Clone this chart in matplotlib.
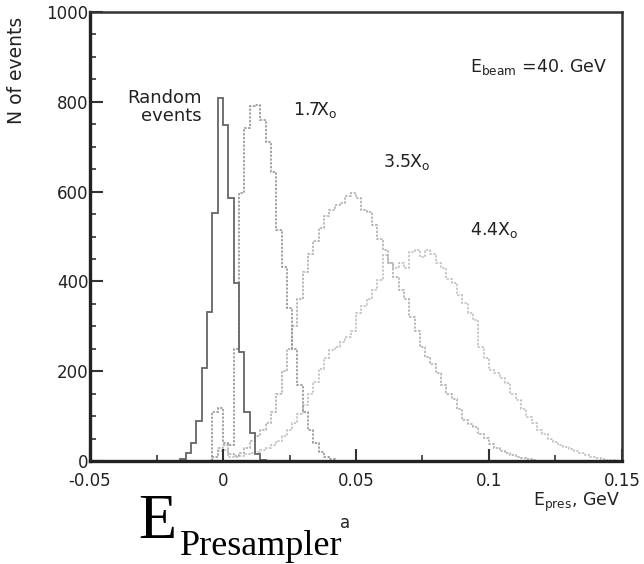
import numpy as np
import matplotlib.pyplot as plt
from matplotlib.ticker import MultipleLocator

# bin width of all histograms (GeV)
bin_w = 0.002

# ---- Random events ----
rand_start = -0.016
rand_counts = [5, 18, 40, 90, 207, 332, 552, 808, 748, 586, 396, 243, 109, 62, 15, 3]

# ---- 1.7 X0 ----
x17_start = -0.004
x17_counts = [110, 118, 40, 35, 250, 597, 742, 790, 793, 760, 710, 644, 515, 432,
              340, 250, 170, 110, 70, 40, 20, 10, 4]

# ---- 3.5 X0 ----
x35_start = -0.004
x35_counts = [10, 30, 35, 15, 12, 18, 30, 45, 55, 70, 85, 110, 150, 200, 250, 300,
              360, 420, 460, 490, 520, 545, 560, 570, 575, 590, 597, 585, 560, 555,
              525, 495, 470, 440, 410, 380, 360, 320, 290, 255, 232, 215, 195, 170,
              150, 138, 115, 92, 82, 75, 60, 52, 38, 30, 22, 18, 14, 10, 7, 4, 2]

# ---- 4.4 X0 ----
x44_start = -0.004
x44_counts = [8, 22, 25, 10, 10, 12, 15, 18, 20, 25, 30, 36, 45, 55, 68, 85, 105,
              125, 150, 175, 205, 230, 247, 255, 265, 276, 290, 330, 345, 360, 380,
              403, 459, 440, 430, 441, 430, 465, 470, 455, 470, 462, 441, 430, 405,
              396, 370, 352, 330, 314, 254, 230, 203, 195, 185, 174, 150, 136, 115,
              98, 85, 69, 60, 50, 42, 35, 31, 26, 22, 18, 14, 10, 7, 5, 3, 2]


def edges(start, counts):
    return start + bin_w * np.arange(len(counts) + 1)


plt.rcParams['font.family'] = ['DejaVu Sans']

fig = plt.figure(figsize=(6.44, 5.64), dpi=100)
ax = fig.add_axes([0.1398, 0.1826, 0.826, 0.7961])

ax.stairs(x44_counts, edges(x44_start, x44_counts), color='#bbbbbb', lw=1.1, ls=(0, (1.5, 1)))
ax.stairs(x35_counts, edges(x35_start, x35_counts), color='#a8a8a8', lw=1.1, ls=(0, (1.5, 1)))
ax.stairs(x17_counts, edges(x17_start, x17_counts), color='#8c8c8c', lw=1.1, ls=(0, (1.5, 1)))
ax.stairs(rand_counts, edges(rand_start, rand_counts), color='#666666', lw=1.3)

ax.set_xlim(-0.05, 0.15)
ax.set_ylim(0, 1000)

ax.set_xticks([-0.05, 0, 0.05, 0.1, 0.15])
ax.set_xticklabels(['-0.05', '0', '0.05', '0.1', '0.15'])
ax.set_yticks([0, 200, 400, 600, 800, 1000])
ax.xaxis.set_minor_locator(MultipleLocator(0.025))
ax.yaxis.set_minor_locator(MultipleLocator(50))
ax.tick_params(which='major', direction='in', length=9, width=1.5, color='#333333',
               labelsize=12, labelcolor='#222222')
ax.tick_params(which='minor', direction='in', length=4, width=1.2, color='#333333')
ax.tick_params(axis='y', pad=1)
ax.tick_params(axis='x', pad=8)
for side in ['left', 'bottom']:
    ax.spines[side].set_linewidth(2.4)
    ax.spines[side].set_color('#222222')
for side in ['top', 'right']:
    ax.spines[side].set_linewidth(1.8)
    ax.spines[side].set_color('#333333')

# annotations inside the plot
ax.text(-0.0079, 828, 'Random\nevents', ha='right', va='top', fontsize=13,
        multialignment='right', color='#222222', linespacing=1.0)
ax.text(0.0262, 771, r'1.7X$_{\rm o}$', fontsize=12.5, color='#222222')
ax.text(0.0602, 655, r'3.5X$_{\rm o}$', fontsize=12.5, color='#222222')
ax.text(0.0929, 503, r'4.4X$_{\rm o}$', fontsize=12.5, color='#222222')
ax.text(0.0929, 866, r'E$_{\rm beam}$ =40. GeV', fontsize=12.5, color='#222222')

# axis labels
fig.text(0.025, 1 - 70 / 564, 'N of events', rotation=90, ha='center', va='center',
         fontsize=13.5, color='#222222')
fig.text(0.963, 1 - 506 / 564, r'E$_{\rm pres}$, GeV', ha='right', va='baseline',
         fontsize=12.5, color='#222222')

# big caption under the chart
fig.text(0.214, 1 - 538 / 564, 'E', fontsize=45, family='Liberation Serif', va='baseline')
fig.text(0.2795, 1 - 555 / 564, 'Presampler', fontsize=26, family='Liberation Serif',
         va='baseline')
fig.text(0.528, 1 - 528 / 564, 'a', fontsize=12, va='baseline', color='#222222')

fig.savefig('out.png', dpi=100)
